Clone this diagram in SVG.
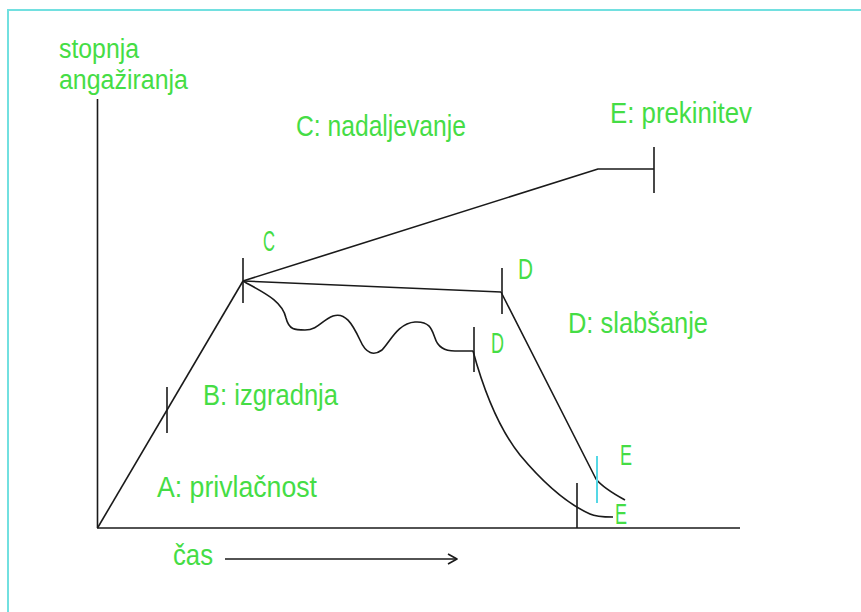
<svg xmlns="http://www.w3.org/2000/svg" width="861" height="612" viewBox="0 0 861 612">
<style>
.ln{fill:none;stroke:#1a1a1a;stroke-width:1.6;stroke-linejoin:round;stroke-linecap:butt}
.t{font-family:"Liberation Sans",Arial,sans-serif;font-size:30px;fill:#45dd45}
.s{font-size:27px}
</style>
<rect width="861" height="612" fill="#ffffff"/>
<rect x="8" y="10" width="900" height="700" fill="none" stroke="#72e0e0" stroke-width="2"/>
<g id="axes" class="ln">
<line x1="97.5" y1="99" x2="97.5" y2="528"/>
<line x1="97" y1="528" x2="740" y2="528"/>
<line x1="225" y1="559" x2="457" y2="559"/>
<polyline points="448,554 457,559 448,564"/>
</g>
<g id="connectors" class="ln">
<line x1="97.5" y1="528" x2="243" y2="281"/>
<polyline points="243,281 598,169 654,169"/>
<line x1="243" y1="281" x2="501" y2="292"/>
<path d="M243,281 C262,292 282,300 286,318 C289,330 295,330 305,330 C318,330 322,320 333,316 C345,312 352,323 360,340 C366,354 374,356 382,350 C390,342 398,323 415,322 C430,321 432,330 435,338 C438,348 445,351 455,351 L473,351"/>
<path d="M473,351 C485,395 500,430 520,455 C545,485 570,505 590,514 Q596,517 613,517"/>
<path d="M501,292 L596,479 Q603,488 625,500"/>
</g>
<g id="ticks" class="ln">
<line x1="167" y1="387" x2="167" y2="433"/>
<line x1="243" y1="258" x2="243" y2="303"/>
<line x1="654" y1="147" x2="654" y2="193"/>
<line x1="502" y1="268" x2="502" y2="314"/>
<line x1="474" y1="327" x2="474" y2="372"/>
<line x1="577" y1="483" x2="577" y2="528"/>
<line x1="597" y1="456" x2="597" y2="503" stroke="#55d8e6" stroke-width="2"/>
</g>
<g id="labels">
<text class="t s" x="59" y="58" textLength="80" lengthAdjust="spacingAndGlyphs">stopnja</text>
<text class="t s" x="59" y="89" textLength="129" lengthAdjust="spacingAndGlyphs">angažiranja</text>
<text class="t" x="296" y="136" textLength="170" lengthAdjust="spacingAndGlyphs">C: nadaljevanje</text>
<text class="t" x="610" y="123" textLength="142" lengthAdjust="spacingAndGlyphs">E: prekinitev</text>
<text class="t" x="263" y="251" textLength="12" lengthAdjust="spacingAndGlyphs">C</text>
<text class="t" x="518" y="279" textLength="15" lengthAdjust="spacingAndGlyphs">D</text>
<text class="t" x="568" y="333" textLength="140" lengthAdjust="spacingAndGlyphs">D: slabšanje</text>
<text class="t" x="491" y="353" textLength="13" lengthAdjust="spacingAndGlyphs">D</text>
<text class="t" x="620" y="465" textLength="12" lengthAdjust="spacingAndGlyphs">E</text>
<text class="t" x="615" y="524" textLength="12" lengthAdjust="spacingAndGlyphs">E</text>
<text class="t" x="203" y="405" textLength="135" lengthAdjust="spacingAndGlyphs">B: izgradnja</text>
<text class="t" x="157" y="497" textLength="160" lengthAdjust="spacingAndGlyphs">A: privlačnost</text>
<text class="t" x="173" y="565" textLength="40" lengthAdjust="spacingAndGlyphs">čas</text>
</g>
</svg>
